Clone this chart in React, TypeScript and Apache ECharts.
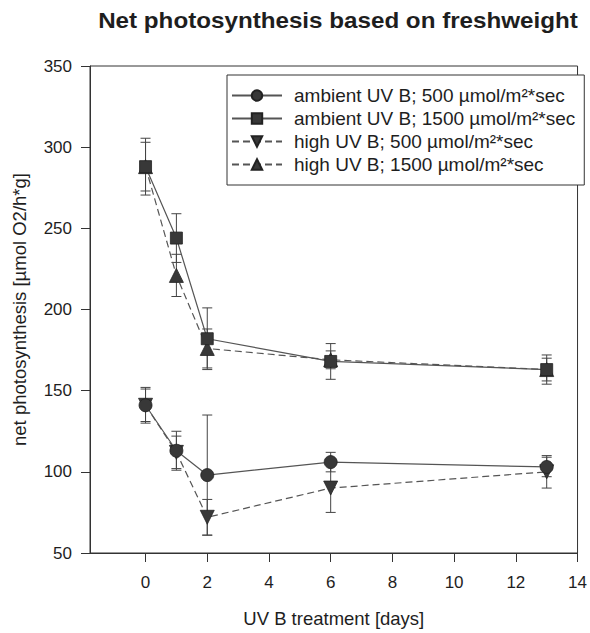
import React, { useEffect, useRef } from "react";
import * as echarts from "echarts";

// Treatment days and measured net photosynthesis (mean ± error)
const days = [0, 1, 2, 6, 13];
const xTicks = [0, 2, 4, 6, 8, 10, 12, 14];

const ambient500 = [141, 113, 98, 106, 103];
const ambient500Err = [11, 12, 37, 6, 6];

const ambient1500 = [288, 244, 182, 168, 163];
const ambient1500Err = [17.5, 15, 19, 11, 9];

const high500 = [141, 112, 72, 90, 100];
const high500Err = [10, 10, 11, 15, 10];

const high1500 = [288, 221, 176, 169, 163];
const high1500Err = [15, 13, 12, 5.5, 7];

const seriesNames = [
  "ambient UV B; 500 µmol/m²*sec",
  "ambient UV B; 1500 µmol/m²*sec",
  "high UV B; 500 µmol/m²*sec",
  "high UV B; 1500 µmol/m²*sec",
];

const FONT = "'Liberation Sans', Arial, Helvetica, sans-serif";
const INK = "#1e1e1e";
const LINE = "#555555";
const MARK = "#383838";

const pairs = (vals: number[]) => days.map((d, i) => [d, vals[i]]);
const triples = (vals: number[], errs: number[]) => days.map((d, i) => [d, vals[i], errs[i]]);

function errorBars(name: string, vals: number[], errs: number[]) {
  return {
    type: "custom",
    name,
    z: 1,
    silent: true,
    data: triples(vals, errs),
    renderItem: (_params: any, api: any) => {
      const x = api.value(0);
      const y = api.value(1);
      const e = api.value(2);
      const top = api.coord([x, y + e]);
      const bot = api.coord([x, y - e]);
      const cap = 5;
      const style = { stroke: "#444", lineWidth: 1 };
      return {
        type: "group",
        children: [
          { type: "line", shape: { x1: top[0], y1: top[1], x2: bot[0], y2: bot[1] }, style },
          { type: "line", shape: { x1: top[0] - cap, y1: top[1], x2: top[0] + cap, y2: top[1] }, style },
          { type: "line", shape: { x1: bot[0] - cap, y1: bot[1], x2: bot[0] + cap, y2: bot[1] }, style },
        ],
      };
    },
  };
}

function lineSeries(name: string, vals: number[], symbol: string, size: number, dashed: boolean, rotate = 0) {
  return {
    type: "line",
    name,
    z: 3,
    data: pairs(vals),
    symbol,
    symbolSize: size,
    symbolRotate: rotate,
    showAllSymbol: true,
    lineStyle: { color: LINE, width: 1.2, type: dashed ? [7, 4] : "solid" },
    itemStyle: { color: MARK, borderColor: "#222", borderWidth: 0.8 },
  };
}

export default function App() {
  const ref = useRef<HTMLDivElement>(null);

  useEffect(() => {
    if (!ref.current) return;
    const chart = echarts.init(ref.current, null, { renderer: "svg" });
    chart.setOption({
      animation: false,
      backgroundColor: "#ffffff",
      graphic: [
        {
          type: "text",
          x: 338,
          y: 9,
          scaleX: 1.1,
          originX: 0,
          style: {
            text: "Net photosynthesis based on freshweight",
            textAlign: "center",
            fill: INK,
            font: `bold 22px ${FONT}`,
          },
        },
      ],
      legend: {
        data: seriesNames,
        orient: "vertical",
        left: 227,
        top: 75,
        padding: [11, 9, 11, 4],
        itemGap: 4,
        itemWidth: 50,
        itemHeight: 13,
        borderColor: "#333",
        borderWidth: 1,
        backgroundColor: "#fff",
        textStyle: { fontFamily: FONT, fontSize: 19, color: INK, padding: [0, 0, 0, 7] },
      },
      grid: {
        left: 90,
        top: 66,
        width: 490,
        height: 491,
        show: true,
        borderColor: "#333",
        borderWidth: 1,
      },
      xAxis: {
        type: "value",
        min: -1.8,
        max: 14,
        name: "UV B treatment [days]",
        nameLocation: "middle",
        nameGap: 56,
        nameTextStyle: { fontFamily: FONT, fontSize: 18.5, color: INK },
        axisLine: { onZero: false, lineStyle: { color: "#333", width: 1 } },
        axisTick: { show: true, length: 9, inside: false, customValues: xTicks, lineStyle: { color: "#333" } },
        axisLabel: { customValues: xTicks, margin: 21, fontFamily: FONT, fontSize: 17, color: INK },
        splitLine: { show: false },
      },
      yAxis: {
        type: "value",
        min: 50,
        max: 350,
        interval: 50,
        name: "net photosynthesis [µmol O2/h*g]",
        nameLocation: "middle",
        nameGap: 61,
        nameTextStyle: { fontFamily: FONT, fontSize: 18.5, color: INK },
        axisLine: { show: true, onZero: false, lineStyle: { color: "#333", width: 1 } },
        axisTick: { show: true, length: 9, lineStyle: { color: "#333" } },
        axisLabel: { margin: 18, fontFamily: FONT, fontSize: 17, color: INK },
        splitLine: { show: false },
      },
      series: [
        errorBars("err-a500", ambient500, ambient500Err),
        errorBars("err-a1500", ambient1500, ambient1500Err),
        errorBars("err-h500", high500, high500Err),
        errorBars("err-h1500", high1500, high1500Err),
        lineSeries(seriesNames[2], high500, "triangle", 14, true, 180),
        lineSeries(seriesNames[3], high1500, "triangle", 14, true),
        lineSeries(seriesNames[0], ambient500, "circle", 13, false),
        lineSeries(seriesNames[1], ambient1500, "rect", 12, false),
      ],
    });
    return () => chart.dispose();
  }, []);

  return (
    <div
      ref={ref}
      style={{ position: "absolute", left: 0, top: 0, width: 590, height: 633 }}
    />
  );
}
